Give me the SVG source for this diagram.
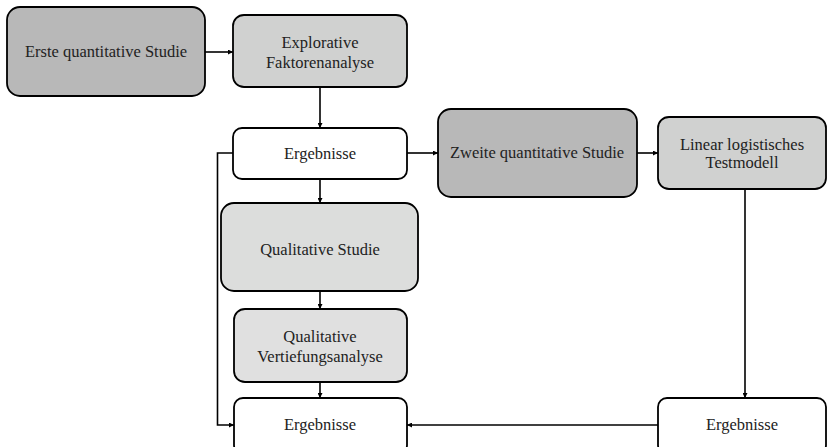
<svg xmlns="http://www.w3.org/2000/svg" width="828" height="447" viewBox="0 0 828 447">
  <defs>
    <marker id="arrow" viewBox="0 0 10 10" refX="10" refY="5" markerWidth="5" markerHeight="5" orient="auto" markerUnits="userSpaceOnUse">
      <path d="M0,0 L10,5 L0,10 z" fill="#000"/>
    </marker>
  </defs>
  <style>
    .box { stroke: #000; stroke-width: 1.8; }
    .dark { fill: #b8b8b8; }
    .mid { fill: #d0d1d0; }
    .light { fill: #dcdddc; }
    .pale { fill: #e0e0e0; }
    .white { fill: #fff; }
    text { font-family: "Liberation Serif", "Times New Roman", serif; font-size: 16.5px; fill: #222; text-anchor: middle; }
    .conn { fill: none; stroke: #000; stroke-width: 1.6; }
  </style>
  <rect width="828" height="447" fill="#fff"/>

  <g id="connectors">
    <line class="conn" x1="205" y1="52" x2="233" y2="52" marker-end="url(#arrow)"/>
    <line class="conn" x1="320" y1="87" x2="320" y2="128" marker-end="url(#arrow)"/>
    <line class="conn" x1="407" y1="153" x2="438" y2="153" marker-end="url(#arrow)"/>
    <line class="conn" x1="637" y1="153" x2="658" y2="153" marker-end="url(#arrow)"/>
    <line class="conn" x1="320" y1="179" x2="320" y2="203" marker-end="url(#arrow)"/>
    <line class="conn" x1="320" y1="291" x2="320" y2="309" marker-end="url(#arrow)"/>
    <line class="conn" x1="320" y1="382" x2="320" y2="398" marker-end="url(#arrow)"/>
    <polyline class="conn" points="233,153 217.5,153 217.5,425 234,425" marker-end="url(#arrow)"/>
    <line class="conn" x1="745" y1="189" x2="745" y2="398" marker-end="url(#arrow)"/>
    <line class="conn" x1="658" y1="425" x2="407" y2="425" marker-end="url(#arrow)"/>
  </g>

  <g id="erste-studie">
    <rect class="box dark" x="7" y="7" width="198" height="89" rx="13"/>
    <text x="106" y="57">Erste quantitative Studie</text>
  </g>
  <g id="faktorenanalyse">
    <rect class="box mid" x="233" y="15" width="174" height="72" rx="11"/>
    <text x="320" y="48">Explorative</text>
    <text x="320" y="68">Faktorenanalyse</text>
  </g>
  <g id="ergebnisse-1">
    <rect class="box white" x="233" y="128" width="174" height="51" rx="9"/>
    <text x="320" y="159">Ergebnisse</text>
  </g>
  <g id="zweite-studie">
    <rect class="box dark" x="438" y="109" width="199" height="88" rx="13"/>
    <text x="537" y="158">Zweite quantitative Studie</text>
  </g>
  <g id="testmodell">
    <rect class="box mid" x="658" y="117" width="168" height="72" rx="11"/>
    <text x="742" y="150">Linear logistisches</text>
    <text x="742" y="168">Testmodell</text>
  </g>
  <g id="qualitative-studie">
    <rect class="box light" x="221" y="203" width="197" height="88" rx="13"/>
    <text x="320" y="255">Qualitative Studie</text>
  </g>
  <g id="vertiefungsanalyse">
    <rect class="box pale" x="234" y="309" width="173" height="73" rx="11"/>
    <text x="320" y="342">Qualitative</text>
    <text x="320" y="362">Vertiefungsanalyse</text>
  </g>
  <g id="ergebnisse-2">
    <rect class="box white" x="234" y="398" width="173" height="56" rx="9"/>
    <text x="320" y="430">Ergebnisse</text>
  </g>
  <g id="ergebnisse-3">
    <rect class="box white" x="658" y="398" width="168" height="56" rx="9"/>
    <text x="742" y="430">Ergebnisse</text>
  </g>
</svg>
